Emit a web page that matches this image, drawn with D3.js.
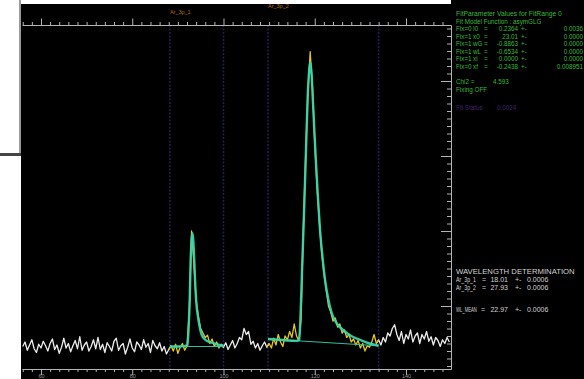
<!DOCTYPE html>
<html><head><meta charset="utf-8">
<script src="https://cdn.jsdelivr.net/npm/d3@7"></script>
<style>html,body{margin:0;padding:0;background:#000;overflow:hidden}</style>
</head><body><svg id="c" width="584" height="379"></svg>
<script>
// ---------- data ----------
const channelStep = 0.5;
const leftStart = 56;
const countsLeft = [46,52,41,48,55,43,38,49,44,53,47,40,50,56,42,48,37,45,57,44,50,39,47,54,43,59,41,48,52,40,46,55,43,58,42,49,38,51,46,40,53,57,41,47,50,36,45,56,44,39,52,48,42,55,45,50,38,54,47,43,51,40,46,36,42];
const region1Start = 88.5;
const countsRegion1 = [47,40,49,37,45,50,41,47,92,200,158,108,86,70,64,58,61,50,56,46,52,44,49];
const midStart = 100;
const countsMid = [45,51,42,48,54,44,50,58,55,70,62,66,49,53,44,50,41,47,52,45];
const region2Start = 110;
const countsRegion2 = [50,44,57,48,62,52,46,60,55,66,58,76,60,54,82,205,300,385,439,392,318,258,212,172,144,122,100,92,80,84,72,76,64,68,58,62,52,56,48,54,44,50,40,47,45,52,62,50];
const rightStart = 134;
const countsRight = [55,48,58,52,64,60,70,75,62,54,66,50,62,56,68,52,60,64,50,62,56,66,53,59,48,58,54,46,55,50,58,52];

const fitRangeLo = [88.25, 109.75];
const fitRangeHi = [100, 134];
const rangeLabels = ["Ar_3p_1", "Ar_3p_2"];

const fit1Channels = [88.25,90,91.5,92.1,92.35,92.6,92.8,93.0,93.2,93.4,93.6,93.8,94.0,94.5,95.2,96.0,97.0,98.5,100];
const fit1Counts   = [46,46,46.5,48,70,108,160,188,197,186,160,130,108,82,62,55,52,49,47];
const fit2Channels = [109.75,112,114,116,116.6,116.9,117.27,117.6,118.0,118.45,118.75,119.0,119.25,119.55,119.9,120.27,120.7,121.15,121.7,122.25,123.0,123.7,124.8,126.2,128,129.9,132,134];
const fit2Counts   = [56,55,54,53.5,55,90,157,215,291,379,412,425,414,379,335,291,245,202,165,135,108,91,77,68,60,55,50,47];
const bgChannels1 = [88.25, 100];
const bgCounts1 = [46, 46];
const bgChannels2 = [109.75, 134];
const bgCounts2 = [56, 47];

const xTickLabels = [60, 80, 100, 120, 140];

const paramFix = ["Fix=0","Fix=1","Fix=1","Fix=1","Fix=1","Fix=0"];
const paramNames = ["I0","x0","wG","wL","xi","xf"];
const paramValues = ["0.2364","23.01","-0.8863","-0.6534","0.0000","-0.2438"];
const paramErrors = ["0.0036","0.0000","0.0000","0.0000","0.0000","0.008951"];

const wlNames = ["Ar_3p_1","Ar_3p_2"];
const wlValues = ["18.01","27.93"];
const wlErrors = ["0.0006","0.0006"];
const wlMeanValue = "22.97";
const wlMeanError = "0.0006";

// ---------- drawing ----------
const svg = d3.select("#c");
const L = 22, R = 451, T = 25, B = 369;
const x = d3.scaleLinear().domain([55.84, 149.86]).range([L, R]);
const y = d3.scaleLinear().domain([16, 474.67]).range([B, T]);

svg.append("rect").attr("width",584).attr("height",379).attr("fill","#000");

function seg(start, arr){ return arr.map((v,i)=>({c:start+i*channelStep, v:v})); }
const all = [].concat(seg(leftStart,countsLeft), seg(region1Start,countsRegion1), seg(midStart,countsMid), seg(region2Start,countsRegion2), seg(rightStart,countsRight));

// region boundary lines
fitRangeLo.concat(fitRangeHi).forEach(c=>{
  svg.append("line").attr("x1",x(c)).attr("x2",x(c)).attr("y1",T).attr("y2",B)
    .attr("stroke","#20204e").attr("stroke-width",1.6).attr("stroke-dasharray","2,1.5");
});

const line = d3.line().x(d=>x(d.c)).y(d=>y(d.v));
// white data outside fit ranges
const whiteParts = [[56, 88.5],[99.5, 110],[133.5, 150]];
whiteParts.forEach(p=>{
  svg.append("path").datum(all.filter(d=>d.c>=p[0]&&d.c<=p[1]))
    .attr("d",line).attr("fill","none").attr("stroke","#ececec").attr("stroke-width",1.3).attr("stroke-linejoin","round");
});
// yellow data inside fit ranges
[[88,100],[109.5,134]].forEach(p=>{
  svg.append("path").datum(all.filter(d=>d.c>=p[0]&&d.c<=p[1]))
    .attr("d",line).attr("fill","none").attr("stroke","#e3c81e").attr("stroke-width",1.3).attr("stroke-linejoin","round");
});

// background lines
[[bgChannels1,bgCounts1],[bgChannels2,bgCounts2]].forEach(b=>{
  svg.append("path").datum(b[0].map((c,i)=>({c:c,v:b[1][i]})))
    .attr("d",line).attr("fill","none").attr("stroke","#2fbf9c").attr("stroke-width",1.2);
});
// fit curves
const fitLine = d3.line().x(d=>x(d.c)).y(d=>y(d.v)).curve(d3.curveMonotoneX);
[[fit1Channels,fit1Counts],[fit2Channels,fit2Counts]].forEach(f=>{
  const pts = f[0].map((c,i)=>({c:c,v:f[1][i]}));
  svg.append("path").datum(pts).attr("d",fitLine).attr("fill","none")
    .attr("stroke","#3bd6b0").attr("stroke-width",2.4).attr("opacity",0.92);
});

// axes
const minorTicks = d3.range(56, 150, 2);
const axisColor = "#b4b4b4";
function styleAxis(g){
  g.select(".domain").attr("stroke",axisColor);
  g.selectAll(".tick line").attr("stroke",axisColor);
}
const topAx = svg.append("g").attr("transform",`translate(0,${T})`)
  .call(d3.axisTop(x).tickValues(minorTicks).tickSize(3).tickSizeOuter(0).tickFormat(""));
styleAxis(topAx);
topAx.selectAll(".tick line").filter(d=>d%20===0).attr("y2",-6.5);

const botAx = svg.append("g").attr("transform",`translate(0,${B})`)
  .call(d3.axisBottom(x).tickValues(minorTicks).tickSize(3).tickSizeOuter(0)
    .tickFormat(d=>xTickLabels.includes(d)?d:""));
styleAxis(botAx);
botAx.selectAll(".tick line").filter(d=>d%20===0).attr("y2",6);
botAx.selectAll(".tick text").attr("fill","#9a9a9a").attr("font-size",5.5)
  .attr("font-family","Liberation Sans").attr("dy",0).attr("y",9.3);

const rightAx = svg.append("g").attr("transform",`translate(${R},0)`)
  .call(d3.axisLeft(y).tickValues(d3.range(20, 475, 10)).tickSize(4).tickSizeOuter(0).tickFormat(""));
styleAxis(rightAx);
rightAx.selectAll(".tick line").filter(d=>d%100===0).attr("x2",-10);

// range labels
rangeLabels.forEach((t,i)=>{
  svg.append("text").attr("x",x(fitRangeLo[i])).attr("y", i===0?14:8)
    .attr("fill","#b07020").attr("font-size",5.5).attr("font-family","Liberation Sans").text(t);
});

// parameter panel (green)
const green = "#3cb83c";
const gfont = "Liberation Sans";
function txt(xp,yp,t,col,fs,anchor,len){
  const s = svg.append("text").attr("fill",col).attr("font-size",fs)
    .attr("font-family",gfont).attr("text-anchor",anchor||"start").text(t);
  if(len){
    const w = s.node().getComputedTextLength();
    s.attr("transform",`translate(${xp},${yp}) scale(${len/w},1)`);
  } else {
    s.attr("x",xp).attr("y",yp);
  }
  return s;
}
txt(456,16,"FitParameter Values for FitRange  0",green,6.3,null,106);
txt(456,23.5,"Fit Model Function : asymGLG",green,6.3);
paramNames.forEach((n,i)=>{
  const yy = 31 + i*7.5;
  txt(456,yy,paramFix[i],green,6.3);
  txt(473,yy,n,green,6.3);
  txt(484,yy,"=",green,6.3);
  txt(518,yy,paramValues[i],green,6.3,"end");
  txt(521,yy,"+-",green,6.3);
  txt(583,yy,paramErrors[i],green,6.3,"end");
});
txt(456,84,"Chi2  =",green,6.3);
txt(493,84,"4.593",green,6.3);
txt(456,91.5,"Fixing OFF",green,6.3);
txt(456,110,"Fit Status",  "#3e2468",6.3);
txt(497,110,"0.0024","#3e2468",6.3);

// wavelength determination (white)
const wc = "#d4d4d4";
txt(456,274,"WAVELENGTH  DETERMINATION",wc,7,null,119);
wlNames.forEach((n,i)=>{
  const yy = 282 + i*7.5;
  txt(456,yy,n,wc,7,null,20);
  txt(482,yy,"=",wc,7);
  txt(508,yy,wlValues[i],wc,7,"end");
  txt(515,yy,"+-",wc,7);
  txt(527,yy,wlErrors[i],wc,7);
});
txt(456,312,"WL_MEAN",wc,7,null,21);
txt(481,312,"=",wc,7);
txt(508,312,wlMeanValue,wc,7,"end");
txt(515,312,"+-",wc,7);
txt(527,312,wlMeanError,wc,7);

// white frame pieces (screen capture surroundings)
svg.append("rect").attr("x",0).attr("y",0).attr("width",21).attr("height",379).attr("fill","#fff");
svg.append("rect").attr("x",21).attr("y",0).attr("width",430).attr("height",4).attr("fill","#fff");
svg.append("rect").attr("x",19).attr("y",0).attr("width",2).attr("height",155).attr("fill","#9a9a9a");
svg.append("rect").attr("x",0).attr("y",153).attr("width",21).attr("height",3).attr("fill","#454545");
</script></body></html>
